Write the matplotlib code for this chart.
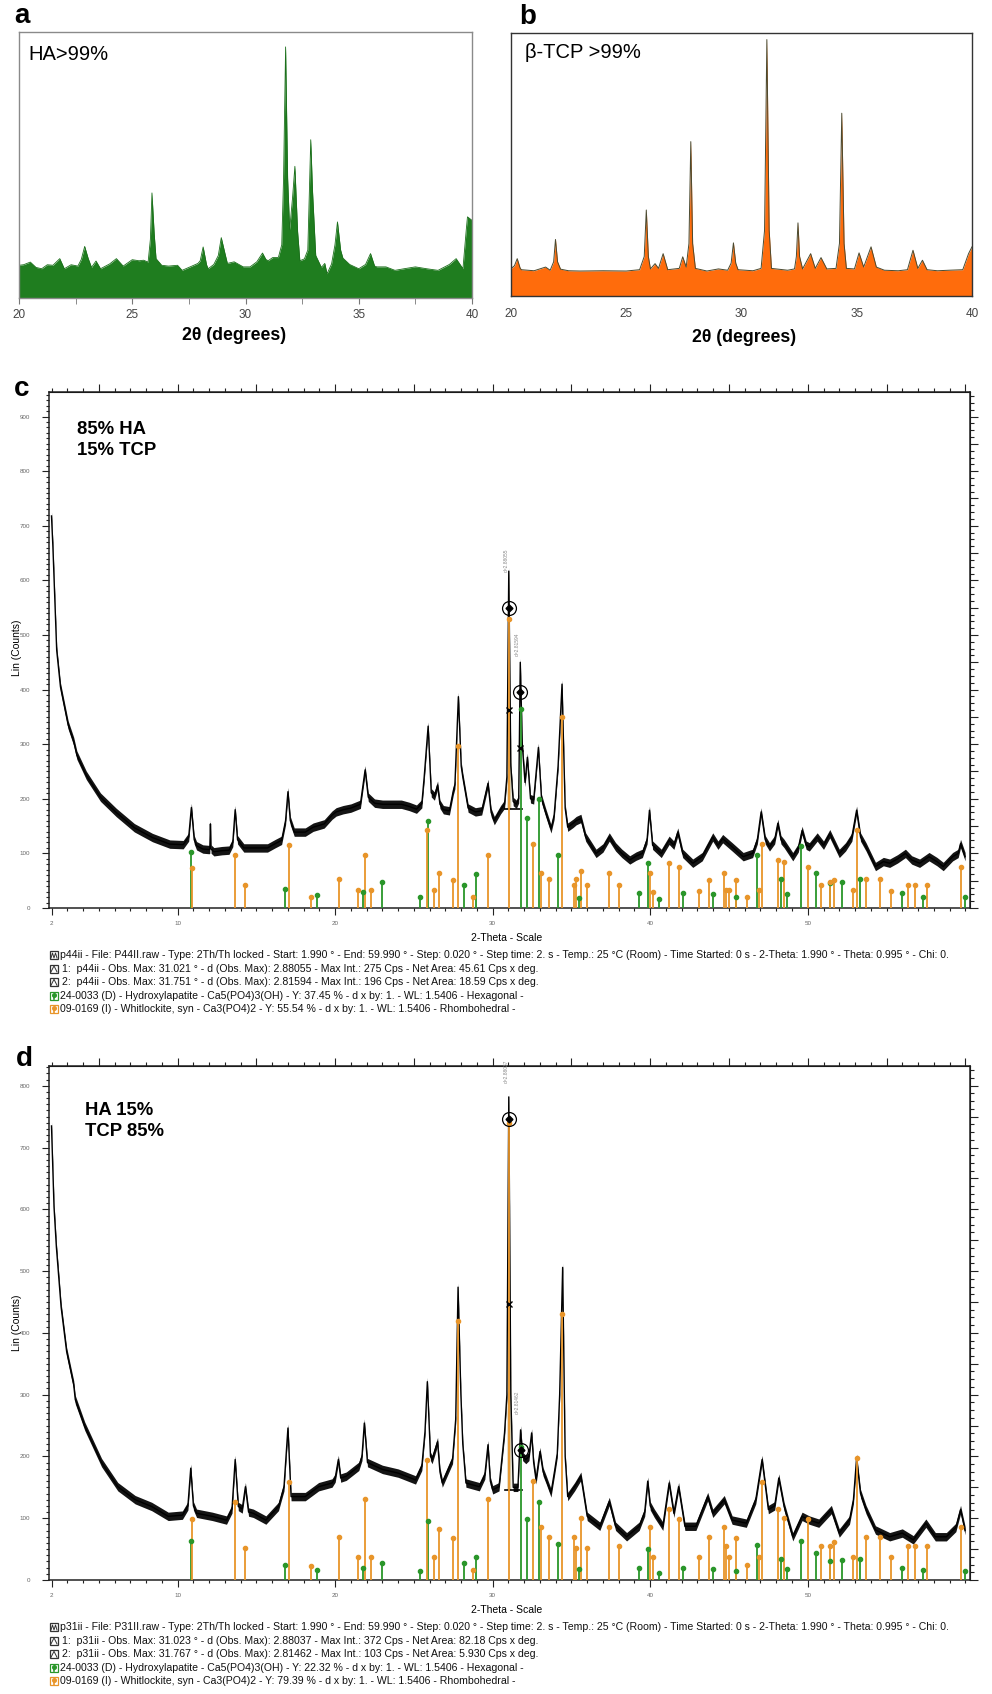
import numpy as np
import matplotlib
matplotlib.use('Agg')
import matplotlib.pyplot as plt
from matplotlib.ticker import MultipleLocator, FixedLocator, NullFormatter
from matplotlib.patches import Rectangle

W, H = 992, 1694
plt.rcParams['font.family'] = ['Liberation Sans', 'DejaVu Sans']

GREEN = '#2a962a'
ORANGE = '#e8952a'
TAN = '#d8c9a6'

# ---- panel a : HA > 99 %  (2theta, relative intensity %)
a_x = [20.0, 20.2, 20.5, 20.75, 21.0, 21.25, 21.5, 21.8, 22.0, 22.3, 22.6, 22.75, 22.9, 23.05, 23.2,
       23.4, 23.6, 24.0, 24.3, 24.6, 25.0, 25.3, 25.5, 25.7, 25.8, 25.87, 25.97, 26.05, 26.3, 26.6,
       27.0, 27.2, 27.5, 27.9, 28.0, 28.13, 28.28, 28.35, 28.6, 28.8, 28.93, 29.1, 29.2, 29.5, 29.9,
       30.2, 30.5, 30.75, 30.9, 31.0, 31.2, 31.45, 31.6, 31.68, 31.77, 31.86, 31.95, 32.08, 32.18,
       32.3, 32.4, 32.6, 32.75, 32.82, 32.88, 32.96, 33.1, 33.35, 33.5, 33.6, 33.8, 33.95, 34.06,
       34.2, 34.3, 34.6, 35.0, 35.3, 35.52, 35.7, 35.8, 36.2, 36.6, 37.0, 37.5, 38.0, 38.5, 39.0,
       39.3, 39.6, 39.75, 39.8, 40.0]
a_y = [12.3, 12.5, 13.5, 11.5, 11.0, 12.5, 12.3, 14.8, 11.0, 12.5, 12.0, 14.5, 19.4, 15.0, 11.5,
       13.9, 11.0, 12.8, 14.8, 12.0, 14.4, 14.0, 14.2, 13.5, 22.0, 39.5, 24.0, 14.8, 12.3, 12.0,
       12.3, 10.4, 11.5, 13.0, 14.0, 19.2, 12.5, 11.0, 12.6, 16.0, 22.7, 16.5, 13.0, 13.6, 11.7,
       11.7, 13.6, 16.9, 14.5, 14.0, 15.2, 15.2, 20.0, 45.0, 94.4, 45.0, 25.7, 38.0, 49.5,
       25.0, 14.0, 14.7, 18.0, 40.0, 59.5, 40.0, 16.0, 11.5, 13.0, 9.1, 12.8, 20.0, 28.6,
       18.0, 15.0, 12.6, 11.0, 12.6, 16.7, 12.0, 11.7, 11.7, 10.4, 11.0, 11.7, 11.0, 10.4, 12.6,
       14.8, 11.0, 26.0, 30.5, 29.2]

# ---- panel b : beta-TCP > 99 %
b_x = [20.0, 20.15, 20.27, 20.4, 20.45, 21.0, 21.5, 21.7, 21.85, 21.93, 22.02, 22.15, 22.5, 23.0,
       24.0, 25.0, 25.58, 25.78, 25.87, 25.96, 26.05, 26.25, 26.4, 26.6, 26.8, 27.3, 27.45, 27.6,
       27.72, 27.8, 27.88, 28.0, 28.5, 29.0, 29.4, 29.55, 29.65, 29.75, 29.85, 30.5, 30.85, 31.0,
       31.1, 31.2, 31.3, 32.0, 32.3, 32.38, 32.45, 32.52, 32.65, 33.0, 33.2, 33.45, 33.7, 34.1,
       34.25, 34.35, 34.45, 34.55, 34.9, 35.1, 35.3, 35.62, 35.85, 36.2, 36.8, 37.2, 37.44, 37.65,
       37.85, 38.05, 38.5, 39.0, 39.6, 39.85, 40.0]
b_y = [10.4, 11.5, 14.2, 10.5, 10.0, 9.6, 11.0, 9.8, 13.0, 21.5, 13.0, 10.2, 9.6, 9.5,
       9.6, 9.5, 10.0, 15.0, 32.7, 15.0, 10.3, 12.3, 10.5, 16.1, 10.0, 10.5, 14.9, 11.0,
       20.0, 58.7, 20.0, 10.5, 9.5, 10.3, 9.8, 12.5, 20.2, 12.5, 10.0, 9.6, 10.5, 25.0,
       97.5, 25.0, 10.5, 9.8, 10.3, 15.0, 27.8, 15.0, 10.3, 16.1, 10.5, 14.6, 10.3, 10.5,
       20.0, 69.5, 20.0, 10.5, 10.3, 16.4, 11.0, 18.7, 11.0, 9.8, 9.6, 10.0, 17.4, 10.5,
       13.6, 10.0, 9.6, 9.8, 10.0, 16.1, 18.7]

# ---- panel c : 85 % HA / 15 % TCP  (2theta, counts)
c_x = [1.99, 2.08, 2.32, 2.56, 3.05, 3.4, 3.6, 4.2, 5.1, 6.1, 7.25, 8.4, 9.5, 10.35, 10.7, 10.87,
       11.05, 11.2, 11.6, 12.0, 12.04, 12.08, 12.12, 12.3, 12.8, 13.26, 13.5, 13.65, 13.8, 14.2,
       14.8, 15.7, 16.2, 16.6, 16.85, 17.0, 17.15, 17.4, 18.1, 18.6, 19.3, 19.8, 20.06, 20.5,
       21.0, 21.6, 21.9, 22.1, 22.5, 23.0, 23.6, 24.2, 24.7, 25.16, 25.5, 25.65, 25.9, 26.1,
       26.3, 26.5, 26.65, 26.87, 27.25, 27.5, 27.6, 27.82, 28.0, 28.1, 28.44, 28.9, 29.3, 29.7,
       29.9, 30.1, 30.5, 30.75, 30.9, 31.02, 31.15, 31.3, 31.5, 31.65, 31.75, 31.88, 32.05, 32.2,
       32.4, 32.6, 32.9, 33.1, 33.35, 33.7, 33.9, 34.15, 34.4, 34.6, 34.76, 35.1, 35.3, 35.6,
       35.9, 36.56, 37.0, 37.4, 37.8, 38.2, 38.7, 39.1, 39.5, 39.8, 39.95, 40.15, 40.7, 41.2,
       41.5, 41.75, 42.06, 42.7, 43.3, 43.97, 44.3, 44.6, 45.2, 45.9, 46.5, 46.8, 47.04, 47.3,
       47.57, 47.9, 48.1, 48.3, 48.5, 49.05, 49.4, 49.64, 49.9, 50.1, 50.6, 51.0, 51.4, 52.0,
       52.4, 52.8, 53.1, 53.35, 53.7, 54.3, 54.8, 55.2, 55.7, 56.2, 56.6, 57.1, 57.7, 58.2,
       58.6, 59.2, 59.55, 59.7, 59.99]
c_y = [718, 661, 472, 405, 335, 305, 280, 243, 203, 175, 147, 129, 117, 116, 130, 184,
       125, 114, 108, 107, 108, 154, 108, 103, 105, 106, 120, 180, 125, 110,
       110, 110, 118, 124, 160, 213, 160, 139, 139, 148, 154, 170, 176, 180,
       183, 190, 253, 203, 192, 190, 190, 190, 186, 181, 191, 240, 333, 211,
       205, 225, 190, 180, 178, 215, 226, 387, 260, 240, 183, 176, 178, 228,
       175, 160, 180, 190, 240, 617, 260, 195, 190, 200, 450, 298, 230, 276,
       200, 198, 294, 200, 176, 145, 170, 260, 410, 183, 148, 155, 160, 164,
       130, 100, 110, 130, 112, 100, 88, 95, 100, 125, 179, 115, 100, 124,
       115, 139, 100, 82, 94, 130, 115, 127, 112, 94, 100, 125, 176, 125,
       112, 125, 155, 125, 118, 94, 110, 142, 115, 112, 130, 115, 136, 100,
       112, 130, 179, 130, 112, 76, 85, 82, 90, 100, 88, 82, 94, 85,
       76, 94, 100, 118, 94]

# ---- panel d : 15 % HA / 85 % TCP
d_x = [1.99, 2.08, 2.15, 2.3, 2.6, 2.95, 3.4, 3.5, 4.1, 5.17, 6.2, 7.3, 8.35, 9.4, 10.3, 10.65,
       10.83, 11.0, 11.2, 12.2, 13.1, 13.45, 13.65, 13.85, 14.1, 14.3, 14.5, 14.8, 15.6, 16.4,
       16.75, 17.0, 17.2, 18.1, 18.95, 19.8, 20.0, 20.2, 20.35, 20.7, 21.5, 21.7, 21.85, 22.05,
       23.0, 24.0, 25.1, 25.5, 25.7, 25.85, 26.05, 26.15, 26.5, 26.65, 26.8, 27.45, 27.65, 27.8,
       27.98, 28.1, 28.3, 29.15, 29.5, 29.7, 29.85, 30.0, 30.4, 30.75, 30.9, 31.02, 31.15, 31.3,
       31.6, 31.77, 31.9, 32.1, 32.3, 32.47, 32.6, 32.75, 33.0, 33.2, 33.4, 33.7, 33.95, 34.1,
       34.25, 34.44, 34.6, 34.76, 35.2, 35.6, 36.0, 36.8, 37.4, 37.8, 38.5, 39.3, 39.65, 39.84,
       40.0, 40.26, 40.8, 41.2, 41.5, 41.8, 42.2, 42.9, 43.65, 43.97, 44.7, 45.2, 46.1, 46.7,
       47.1, 47.5, 47.9, 48.16, 48.5, 49.05, 49.64, 50.1, 50.7, 51.5, 52.0, 52.65, 52.9, 53.1,
       53.35, 53.7, 54.3, 55.2, 56.0, 56.7, 57.5, 58.1, 58.8, 59.4, 59.7, 59.99]
d_y = [735, 663, 604, 539, 442, 370, 316, 292, 249, 190, 151, 130, 119, 103, 105, 120,
       181, 120, 108, 103, 97, 115, 195, 119, 115, 151, 110, 108, 97, 119,
       151, 246, 135, 135, 151, 157, 165, 195, 165, 168, 184, 200, 254, 190,
       179, 173, 162, 184, 240, 321, 200, 195, 224, 175, 157, 195, 260, 474,
       300, 220, 157, 151, 170, 219, 160, 146, 151, 238, 300, 782, 300, 150,
       150, 243, 200, 195, 200, 238, 190, 162, 208, 175, 162, 141, 180, 205,
       300, 506, 200, 135, 151, 168, 103, 87, 127, 87, 70, 87, 110, 160,
       120, 108, 87, 157, 108, 151, 87, 87, 135, 108, 130, 97, 92, 130,
       195, 114, 120, 165, 119, 70, 103, 97, 92, 114, 76, 97, 130, 197,
       140, 114, 81, 70, 76, 65, 92, 70, 70, 85, 114, 80]

# ---- reference patterns (stick positions and heights in c and d)
ha_pos = [10.82, 16.84, 18.85, 21.79, 22.95, 25.4, 25.9, 28.2, 28.94, 31.77, 32.2, 32.92, 34.17,
          35.5, 39.27, 39.88, 40.54, 42.1, 43.97, 45.45, 46.8, 48.3, 48.7, 49.6, 50.5, 51.4,
          52.2, 53.34, 56.0, 57.3, 60.0]
ha_c = [103, 35, 24, 30, 47, 21, 159, 42, 62, 365, 164, 200, 97, 18, 28, 82, 17, 28, 26, 21,
        97, 53, 26, 113, 65, 45, 48, 53, 28, 21, 21]
ha_d = [63, 25, 16, 19, 28, 14, 96, 27, 38, 215, 99, 126, 58, 17, 19, 50, 12, 19, 17, 14,
        57, 34, 17, 63, 43, 30, 33, 34, 19, 16, 14]
tcp_pos = [10.88, 13.66, 14.25, 17.05, 18.47, 20.26, 21.47, 21.9, 22.27, 25.8, 26.3, 26.57,
           27.46, 27.82, 28.73, 29.72, 31.02, 32.54, 33.07, 33.55, 34.4, 35.14, 35.3, 35.6,
           36.0, 37.4, 38.0, 40.0, 40.2, 41.2, 41.8, 43.1, 43.7, 44.7, 44.8, 45.0, 45.45,
           46.15, 46.9, 47.1, 48.1, 48.5, 50.0, 50.85, 51.4, 51.65, 52.86, 53.1, 53.7, 54.6,
           55.3, 56.35, 56.8, 57.6, 59.7]
tcp_c = [73, 97, 42, 115, 21, 53, 33, 97, 33, 142, 33, 65, 52, 297, 21, 97, 530, 117, 65, 53,
         350, 42, 53, 67, 42, 65, 42, 64, 30, 83, 76, 32, 52, 65, 33, 33, 52, 21, 33, 118,
         88, 85, 76, 42, 47, 52, 33, 142, 53, 53, 32, 42, 42, 42, 76]
tcp_d = [98, 126, 52, 158, 23, 69, 38, 131, 38, 194, 38, 83, 68, 420, 16, 131, 740, 161, 85, 69,
         430, 69, 52, 100, 52, 86, 55, 86, 38, 115, 98, 38, 69, 85, 55, 38, 68, 25, 38, 158,
         115, 101, 99, 55, 55, 61, 38, 197, 69, 69, 38, 55, 55, 55, 85]

# peak search marks: position, circle height, cross height, label
c_marks = [(31.021, 550, 363, 'd=2.88055'), (31.751, 395, 293, 'd=2.81594')]
d_marks = [(31.023, 746, 446, 'd=2.88037'), (31.767, 211, None, 'd=2.81462')]
c_area = (30.85, 31.2, 182)
d_area = (30.85, 31.2, 146)

c_legend = [
    ('scan', 'p44ii - File: P44II.raw - Type: 2Th/Th locked - Start: 1.990 ° - End: 59.990 ° - Step: 0.020 ° - Step time: 2. s - Temp.: 25 °C (Room) - Time Started: 0 s - 2-Theta: 1.990 ° - Theta: 0.995 ° - Chi: 0.'),
    ('peak', '1:  p44ii - Obs. Max: 31.021 ° - d (Obs. Max): 2.88055 - Max Int.: 275 Cps - Net Area: 45.61 Cps x deg.'),
    ('peak', '2:  p44ii - Obs. Max: 31.751 ° - d (Obs. Max): 2.81594 - Max Int.: 196 Cps - Net Area: 18.59 Cps x deg.'),
    ('ha', '24-0033 (D) - Hydroxylapatite - Ca5(PO4)3(OH) - Y: 37.45 % - d x by: 1. - WL: 1.5406 - Hexagonal -'),
    ('tcp', '09-0169 (I) - Whitlockite, syn - Ca3(PO4)2 - Y: 55.54 % - d x by: 1. - WL: 1.5406 - Rhombohedral -'),
]
d_legend = [
    ('scan', 'p31ii - File: P31II.raw - Type: 2Th/Th locked - Start: 1.990 ° - End: 59.990 ° - Step: 0.020 ° - Step time: 2. s - Temp.: 25 °C (Room) - Time Started: 0 s - 2-Theta: 1.990 ° - Theta: 0.995 ° - Chi: 0.'),
    ('peak', '1:  p31ii - Obs. Max: 31.023 ° - d (Obs. Max): 2.88037 - Max Int.: 372 Cps - Net Area: 82.18 Cps x deg.'),
    ('peak', '2:  p31ii - Obs. Max: 31.767 ° - d (Obs. Max): 2.81462 - Max Int.: 103 Cps - Net Area: 5.930 Cps x deg.'),
    ('ha', '24-0033 (D) - Hydroxylapatite - Ca5(PO4)3(OH) - Y: 22.32 % - d x by: 1. - WL: 1.5406 - Hexagonal -'),
    ('tcp', '09-0169 (I) - Whitlockite, syn - Ca3(PO4)2 - Y: 79.39 % - d x by: 1. - WL: 1.5406 - Rhombohedral -'),
]


def box(l, t, r, b):
    return [l / W, 1 - b / H, (r - l) / W, (b - t) / H]


fig = plt.figure(figsize=(W / 100, H / 100), dpi=100)

# ---------- a
ax = fig.add_axes(box(19, 32, 472, 298))
ax.fill_between(a_x, a_y, 0, color='#1f7d1f', lw=0)
ax.plot(a_x, a_y, color='#1b6f1b', lw=0.6)
ax.set_xlim(20, 40)
ax.set_ylim(0, 100)
ax.set_yticks([])
ax.xaxis.set_major_locator(MultipleLocator(5))
ax.xaxis.set_minor_locator(MultipleLocator(2.5))
ax.tick_params(axis='x', which='both', direction='out', length=4, color='#777',
               labelsize=8.5, labelcolor='#444', pad=4)
for s in ax.spines.values():
    s.set_color('#8a8a8a')
    s.set_linewidth(1)

# ---------- b
ax = fig.add_axes(box(511, 33, 972, 296))
ax.fill_between(b_x, b_y, 0, color='#ff6c0c', lw=0)
ax.plot(b_x, b_y, color='#4a4a30', lw=0.7)
ax.set_xlim(20, 40)
ax.set_ylim(0, 100)
ax.set_yticks([])
ax.xaxis.set_major_locator(MultipleLocator(5))
ax.tick_params(axis='x', length=0, labelsize=8.5, labelcolor='#444', pad=8.5)
for s in ax.spines.values():
    s.set_color('#333')
    s.set_linewidth(1)


def noisy_trace(ax, xs, ys, half_px):
    # counting noise: a band of constant vertical thickness around the trace
    px_per_count = ax.transData.transform([[0, 1]])[0, 1] - ax.transData.transform([[0, 0]])[0, 1]
    h = half_px / px_per_count
    ax.fill_between(xs, ys - h, ys + h, color='#141414', lw=0, zorder=2)
    ax.plot(xs, ys, color='black', lw=1.0, zorder=2)


def xrd_panel(rect, ymax, xs, ys, ha_h, tcp_h, area, marks, ytop_tick):
    ax = fig.add_axes(rect)
    ax.set_xlim(1.8, 60.3)
    ax.set_ylim(0, ymax)
    xs = np.array(xs, float)
    ys = np.array(ys, float)
    lo, hi, base = area
    m = (xs >= lo) & (xs <= hi)
    ax.fill_between(xs[m], ys[m], base, color=TAN, lw=0, zorder=1)
    noisy_trace(ax, xs, ys, 4.2)
    ax.plot([lo - 0.05, marks[1][0] + 0.1], [base, base], color='black', lw=1.2, zorder=3)
    ax.vlines(ha_pos, 0, ha_h, color=GREEN, lw=1.3, zorder=4)
    ax.plot(ha_pos, ha_h, 'o', ms=3, color=GREEN, zorder=5)
    ax.vlines(tcp_pos, 0, tcp_h, color=ORANGE, lw=1.3, zorder=4)
    ax.plot(tcp_pos, tcp_h, 'o', ms=3, color=ORANGE, zorder=5)
    for (px, yc, yx, lab) in marks:
        ax.plot(px, yc, 'o', ms=10, mfc='none', mec='black', mew=0.9, zorder=6)
        ax.plot(px, yc, 'D', ms=3.5, color='black', zorder=6)
        if yx is not None:
            ax.plot(px, yx, 'x', ms=5, color='black', mew=1, zorder=6)
        ax.text(px - 0.18, yc + 0.07 * ymax, lab, rotation=90, fontsize=3.5,
                color='#888', ha='center', va='bottom', zorder=6)
    ax.xaxis.set_major_locator(FixedLocator([2, 10, 20, 30, 40, 50]))
    ax.xaxis.set_minor_locator(MultipleLocator(1))
    ax.yaxis.set_major_locator(FixedLocator(list(range(0, ytop_tick + 1, 100))))
    ax.yaxis.set_minor_locator(MultipleLocator(10))
    ax.tick_params(which='both', direction='out', color='#222', labelsize=4.5,
                   labelcolor='#666', width=0.8)
    ax.tick_params(which='major', length=5)
    ax.tick_params(which='minor', length=2.5)
    ax.tick_params(axis='y', pad=8)
    ax.tick_params(axis='x', pad=4)
    for s in ax.spines.values():
        s.set_color('#222')
        s.set_linewidth(1.1)
    top = ax.secondary_xaxis('top')
    top.xaxis.set_major_locator(MultipleLocator(5))
    top.xaxis.set_minor_locator(MultipleLocator(1))
    top.xaxis.set_major_formatter(NullFormatter())
    top.tick_params(which='both', direction='out', color='#222', width=0.8)
    top.tick_params(which='major', length=6)
    top.tick_params(which='minor', length=3)
    right = ax.secondary_yaxis('right')
    right.yaxis.set_major_locator(MultipleLocator(50))
    right.yaxis.set_minor_locator(MultipleLocator(12.5))
    right.yaxis.set_major_formatter(NullFormatter())
    right.tick_params(which='both', direction='out', color='#222', width=0.8)
    right.tick_params(which='major', length=6)
    right.tick_params(which='minor', length=3)
    return ax


xrd_panel(box(48.5, 392, 970, 908), 945, c_x, c_y, ha_c, tcp_c, c_area, c_marks, 900)
xrd_panel(box(48.5, 1066, 970, 1580), 832, d_x, d_y, ha_d, tcp_d, d_area, d_marks, 800)

# ---------- overlay in pixel coordinates
ov = fig.add_axes([0, 0, 1, 1])
ov.set_xlim(0, W)
ov.set_ylim(H, 0)
ov.axis('off')

for lab, x, y in [('a', 22, 16), ('b', 528, 17), ('c', 22, 389), ('d', 24, 1059)]:
    ov.text(x, y, lab, fontsize=20, fontweight='bold', ha='center', va='center')

ov.text(28, 55, 'HA>99%', fontsize=14.5, ha='left', va='center')
ov.text(525, 53, 'β-TCP >99%', fontsize=14.5, ha='left', va='center')
ov.text(234, 335, '2θ (degrees)', fontsize=12.7, fontweight='bold', ha='center', va='center')
ov.text(744, 338, '2θ (degrees)', fontsize=12.7, fontweight='bold', ha='center', va='center')

ov.text(77, 440, '85% HA\n15% TCP', fontsize=13.3, fontweight='bold', ha='left', va='center',
        linespacing=1.28)
ov.text(85, 1121, 'HA 15%\nTCP 85%', fontsize=13.3, fontweight='bold', ha='left', va='center',
        linespacing=1.28)

for yc in (648, 1323):
    ov.text(17, yc, 'Lin (Counts)', fontsize=7.5, rotation=90, ha='center', va='center')


def legend_block(y_axis, lines):
    ov.text(507, y_axis + 30, '2-Theta - Scale', fontsize=7.5, ha='center', va='center')
    for i, (kind, txt) in enumerate(lines):
        y = y_axis + 47.5 + i * 13.4
        if kind == 'ha':
            ec = GREEN
        elif kind == 'tcp':
            ec = ORANGE
        else:
            ec = '#333'
        ov.add_patch(Rectangle((50, y - 4), 8, 8, fill=False, ec=ec, lw=0.9))
        if kind == 'scan':
            ov.plot([51, 52.5, 54, 55.5, 57], [y + 2.5, y - 2.5, y + 2.5, y - 2.5, y + 2.5],
                    color='#333', lw=0.7)
        elif kind == 'peak':
            ov.plot([51, 54, 57], [y + 3, y - 3, y + 3], color='#333', lw=0.7)
        else:
            ov.plot([54, 54], [y + 3.5, y - 1], color=ec, lw=1.2)
            ov.plot(54, y - 1, 'o', ms=2.6, color=ec)
        ov.text(59.5 if kind != 'peak' else 62, y, txt, fontsize=7.6, ha='left', va='center',
                color='#111')


legend_block(908, c_legend)
legend_block(1580, d_legend)

fig.savefig('out.png', dpi=100)
